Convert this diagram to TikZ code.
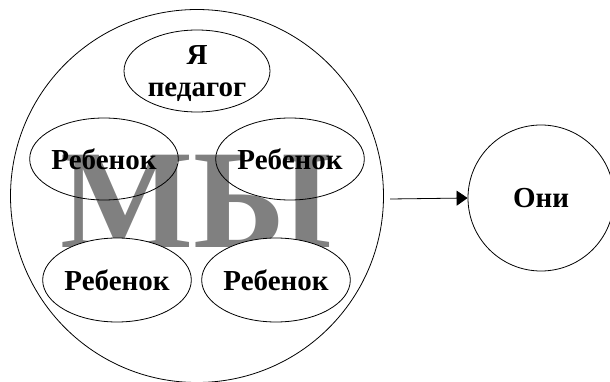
\documentclass[tikz,border=0pt]{standalone}
\usepackage{fontspec}
\setmainfont{Liberation Serif}
\usetikzlibrary{shapes.geometric,arrows.meta}
\begin{document}
\begin{tikzpicture}[x=1pt,y=-1pt,
  lbl/.style={font=\fontsize{29}{31}\selectfont\bfseries},
  oval/.style={ellipse,draw=black,line width=0.8pt,inner sep=0pt,lbl},
  ring/.style={circle,draw=black,line width=0.8pt,inner sep=0pt}]
\useasboundingbox (0,0) rectangle (610,382);
\node[ring,minimum size=373pt] (we) at (197,196) {};
\node[text=black!50,inner sep=0pt,anchor=base,font=\fontsize{141}{141}\selectfont\bfseries] (my) at (196,247) {МЫ};
\node[oval,minimum width=146pt,minimum height=82pt] (me) at (197,71) {};
\node[lbl,inner sep=0pt,anchor=base] (meA) at (197,65) {Я};
\node[lbl,inner sep=0pt,anchor=base] (meB) at (197,97) {педагог};
\node[oval,minimum width=145pt,minimum height=82pt] (c1) at (104,159) {Ребенок};
\node[oval,minimum width=145pt,minimum height=82pt] (c2) at (290,159) {Ребенок};
\node[oval,fill=white,minimum width=145pt,minimum height=84pt] (c3) at (117,280) {Ребенок};
\node[oval,fill=white,minimum width=145pt,minimum height=84pt] (c4) at (276,280) {Ребенок};
\node[ring,minimum size=146pt,lbl] (they) at (541,198) {Они};
\coordinate (a) at (390,199);
\draw[line width=0.8pt,-{Triangle[length=11pt,width=15pt]}] (a) -- (they.west);
\end{tikzpicture}
\end{document}
